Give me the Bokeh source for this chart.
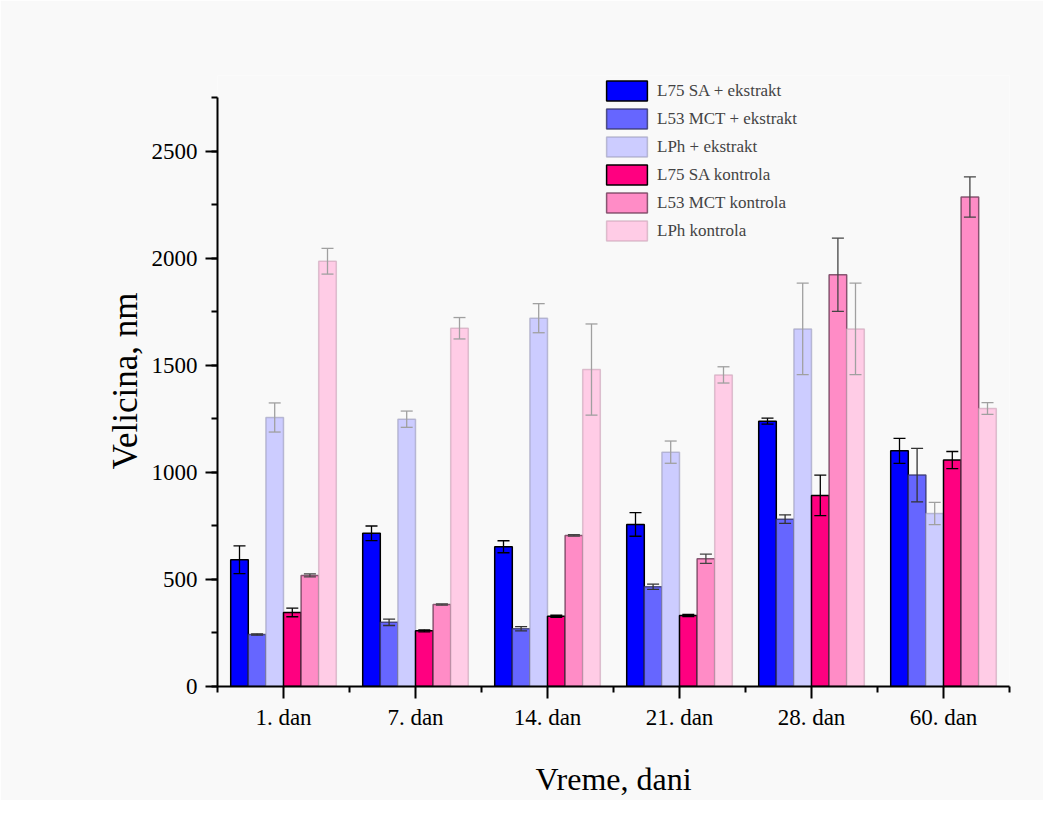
import numpy as np
from bokeh.plotting import figure
from bokeh.models import (ColumnDataSource, Whisker, TeeHead, FixedTicker, SingleIntervalTicker,
                          Legend, LegendItem, Range1d)
from bokeh.embed import file_html
from bokeh.resources import INLINE

days = ["1. dan", "7. dan", "14. dan", "21. dan", "28. dan", "60. dan"]
series_names = ["L75 SA + ekstrakt", "L53 MCT + ekstrakt", "LPh + ekstrakt",
                "L75 SA kontrola", "L53 MCT kontrola", "LPh kontrola"]

l75_ext = [592, 716, 653, 757, 1240, 1101]
l75_ext_err = [65, 34, 28, 55, 14, 58]
l53_ext = [243, 300, 270, 466, 782, 988]
l53_ext_err = [3, 15, 10, 12, 20, 125]
lph_ext = [1257, 1249, 1721, 1095, 1671, 808]
lph_ext_err = [68, 38, 68, 52, 214, 52]
l75_ctrl = [346, 260, 328, 332, 893, 1058]
l75_ctrl_err = [20, 5, 5, 5, 95, 40]
l53_ctrl = [519, 383, 706, 597, 1924, 2287]
l53_ctrl_err = [7, 3, 3, 22, 171, 94]
lph_ctrl = [1987, 1674, 1481, 1456, 1671, 1299]
lph_ctrl_err = [60, 50, 213, 38, 214, 27]

values = [l75_ext, l53_ext, lph_ext, l75_ctrl, l53_ctrl, lph_ctrl]
errors = [l75_ext_err, l53_ext_err, lph_ext_err, l75_ctrl_err, l53_ctrl_err, lph_ctrl_err]

fills = ["#0000FF", "#6666FF", "#CCCCFF", "#FF0080", "#FF8CC6", "#FFCCE6"]
line_cols = ["#000000", "#333366", "#9a9ab8", "#000000", "#6a3a55", "#c8a0b4"]
line_alphas = [1.0, 0.8, 0.6, 1.0, 0.8, 0.6]
err_cols = ["#000000", "#333333", "#a0a0a0", "#000000", "#444444", "#a0a0a0"]

FONT = "Liberation Serif"
BG = "#f9f9f9"

p = figure(width=1043, height=800, output_backend="svg", toolbar_location=None,
           x_range=Range1d(0, 6), y_range=Range1d(0, 2855),
           min_border_left=217, min_border_right=34, min_border_top=75, min_border_bottom=114,
           background_fill_color=BG, border_fill_color=BG, outline_line_color=None)
p.grid.visible = False

n = len(series_names)
bar_w = 0.8 / n
centers = np.arange(len(days)) + 0.5
items = []
for k in range(n):
    xs = centers + (k - (n - 1) / 2) * bar_w
    v = np.array(values[k], dtype=float)
    e = np.array(errors[k], dtype=float)
    src = ColumnDataSource(dict(x=xs, top=v, upper=v + e, lower=v - e))
    r = p.vbar(x="x", top="top", width=bar_w, source=src, fill_color=fills[k],
               line_color=line_cols[k], line_alpha=line_alphas[k], line_width=1.5)
    items.append(LegendItem(label=series_names[k], renderers=[r]))
    w = Whisker(base="x", upper="upper", lower="lower", source=src,
                line_color=err_cols[k], line_width=1.3, level="overlay",
                upper_head=TeeHead(size=12, line_color=err_cols[k], line_width=1.3),
                lower_head=TeeHead(size=12, line_color=err_cols[k], line_width=1.3))
    p.add_layout(w)

legend = Legend(items=items, location=(384, 443), glyph_width=51, glyph_height=25,
                label_height=25, spacing=3, padding=0, margin=0, label_standoff=5,
                label_text_font=FONT, label_text_font_size="17px",
                background_fill_alpha=0, border_line_color=None)
p.add_layout(legend)

# x axis
p.xaxis.ticker = FixedTicker(ticks=list(centers), minor_ticks=list(range(len(days) + 1)))
p.xaxis.major_label_overrides = {float(c): d for c, d in zip(centers, days)}
p.xaxis.axis_label = "Vreme, dani"
# y axis
p.yaxis.ticker = SingleIntervalTicker(interval=500, num_minor_ticks=2)
p.yaxis.axis_label = "Velicina, nm"
p.yaxis.bounds = (0, 2750)

for ax in (p.xaxis[0], p.yaxis[0]):
    ax.axis_line_width = 2
    ax.axis_line_color = "black"
    ax.major_tick_line_width = 2
    ax.minor_tick_line_width = 2
    ax.major_tick_line_color = "black"
    ax.minor_tick_line_color = "black"
    ax.major_tick_in = 0
    ax.major_tick_out = 12
    ax.minor_tick_in = 0
    ax.minor_tick_out = 6
    ax.major_label_text_font = FONT
    ax.major_label_text_font_size = "23px"
    ax.major_label_text_color = "black"
    ax.axis_label_text_font = FONT
    ax.axis_label_text_font_style = "normal"
    ax.axis_label_text_color = "black"

p.xaxis.axis_label_text_font_size = "32px"
p.yaxis.axis_label_text_font_size = "35px"
p.xaxis.major_label_standoff = 6
p.xaxis.axis_label_standoff = 28
p.yaxis.major_label_standoff = 8
p.yaxis.axis_label_standoff = 4

open("out.html", "w").write(file_html(p, INLINE))
